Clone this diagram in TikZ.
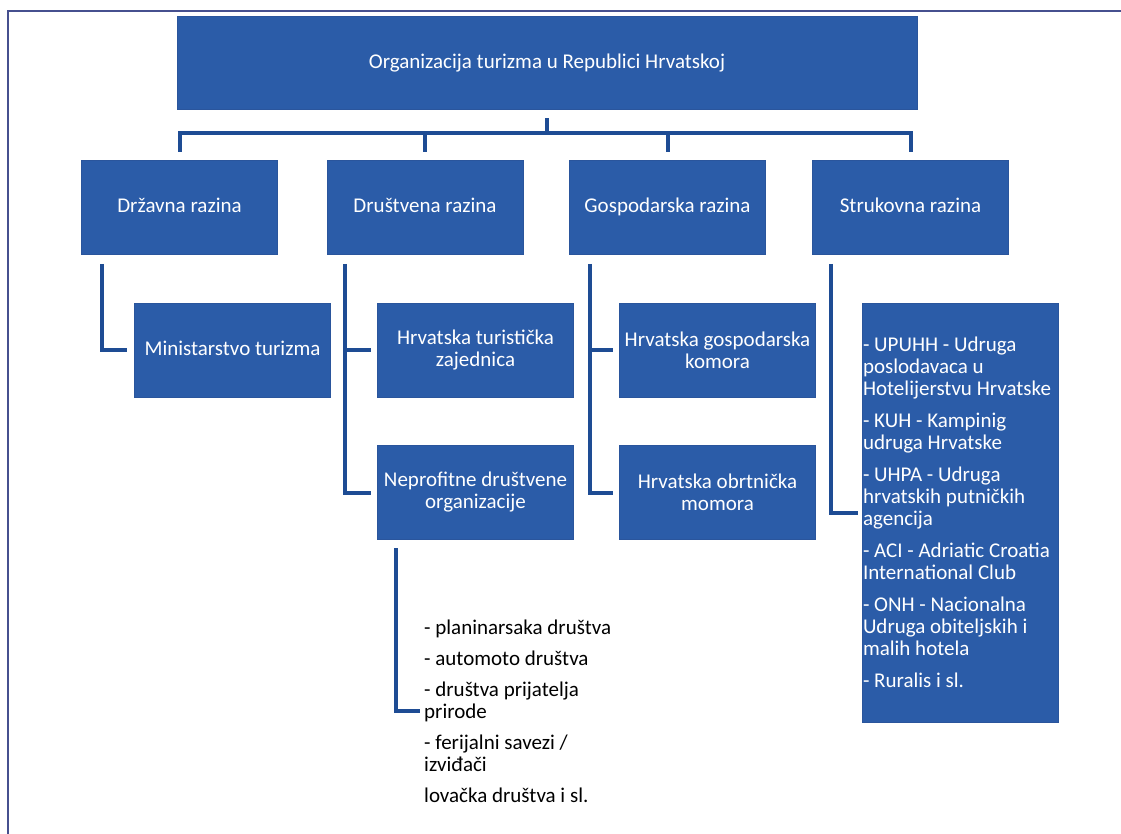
\documentclass[tikz,border=0pt]{standalone}
\usepackage{fontspec}
\setmainfont{Carlito}
\usetikzlibrary{positioning,calc}
\definecolor{boxblue}{HTML}{2B5CA8}
\definecolor{boxedge}{HTML}{2A559C}
\definecolor{linkblue}{HTML}{1E4C94}
\definecolor{framecol}{HTML}{46508F}

\begin{document}
\begin{tikzpicture}[x=1pt,y=-1pt]

        \tikzstyle{every node}=[font=\fontsize{21}{22}\selectfont]
        \tikzstyle{orgbox}=[draw=boxedge,fill=boxblue,text=white,line width=1pt,minimum width=196pt,minimum height=94pt,align=center,inner sep=2pt]
        \tikzstyle{onerow}=[text height=14pt,text depth=4pt]
        \tikzstyle{link}=[draw=linkblue,line width=4pt]

        \useasboundingbox (0,0) rectangle (1121,834);
        \draw[framecol,line width=2pt] (8,834) -- (8,11) -- (1121,11);

        % levels
        \node[orgbox,onerow,minimum width=740pt,minimum height=93pt] (top) at (547,63.5) {Organizacija turizma u Republici Hrvatskoj};
        \node[orgbox,onerow] (drz) at (179.5,207.5) {Državna razina};
        \node[orgbox,onerow] (dru) at (425,207.5) {Društvena razina};
        \node[orgbox,onerow] (gos) at (667.5,207.5) {Gospodarska razina};
        \node[orgbox,onerow] (str) at (910.5,207.5) {Strukovna razina};

        \node[orgbox,onerow] (min) at (232.5,350) {Ministarstvo turizma};
        \node[orgbox] (hrv) at (475.5,350) {Hrvatska turistička\\ zajednica};
        \node[orgbox] (nep) at (475.5,492.5) {Neprofitne društvene\\ organizacije};
        \node[orgbox] (hgk) at (717.5,350) {Hrvatska gospodarska\\ komora};
        \node[orgbox] (hok) at (717.5,492.5) {Hrvatska obrtnička\\ momora};
        \node[orgbox,minimum height=419pt,text width=194pt,inner sep=1pt,align=flush left] (strl) at (960,512.5)
          {- UPUHH - Udruga\\ poslodavaca u\\ Hotelijerstvu Hrvatske\\[10pt]
           - KUH - Kampinig\\ udruga Hrvatske\\[10pt]
           - UHPA - Udruga\\ hrvatskih putničkih\\ agencija\\[10pt]
           - ACI - Adriatic Croatia\\ International Club\\[10pt]
           - ONH - Nacionalna\\ Udruga obiteljskih i\\ malih hotela\\[10pt]
           - Ruralis i sl.};
        \node[anchor=west,align=left,inner sep=4pt] (list) at (420,711)
          {- planinarsaka društva\\[9pt]
           - automoto društva\\[9pt]
           - društva prijatelja\\ prirode\\[9pt]
           - ferijalni savezi /\\ izviđači\\[9pt]
           lovačka društva i sl.};

        % connectors
        \coordinate (bar) at (547,133);
        \draw[link,shorten <=8pt] (top.south) -- (bar);
        \foreach \lvl in {drz,dru,gos,str}
          \draw[link,shorten >=8pt] (bar) -| (\lvl.north);

        \draw[link,shorten <=9pt,shorten >=7pt] ([xshift=-78pt]drz.south) |- (min.west);
        \draw[link,shorten <=9pt,shorten >=6pt] ([xshift=-80pt]dru.south) |- (nep.west);
        \draw[link,shorten >=6pt] ([xshift=-80pt]dru.south |- hrv.west) -- (hrv.west);
        \draw[link,shorten <=9pt,shorten >=6pt] ([xshift=-78pt]gos.south) |- (hok.west);
        \draw[link,shorten >=6pt] ([xshift=-78pt]gos.south |- hgk.west) -- (hgk.west);
        \draw[link,shorten <=9pt,shorten >=4pt] ([xshift=-80pt]str.south) |- (strl.west);
        \draw[link,shorten <=8pt] ([xshift=-80pt]nep.south) |- (list.west);
      \end{tikzpicture}
\end{document}
